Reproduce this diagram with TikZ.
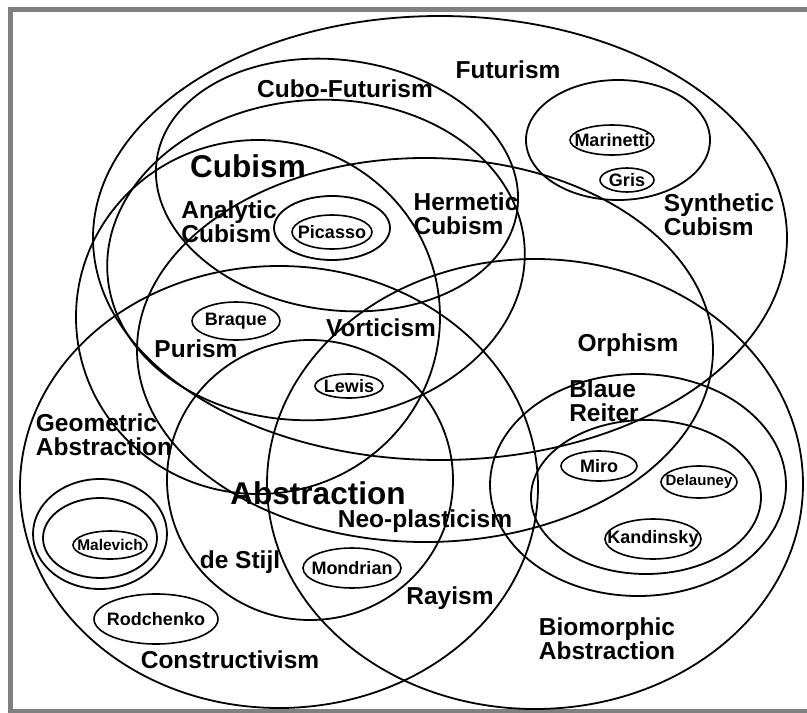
\documentclass[tikz,border=0pt]{standalone}
\usepackage{fontspec}
\setmainfont{Liberation Sans}
\usetikzlibrary{positioning}
\definecolor{framegray}{RGB}{128,128,128}

\begin{document}
\begin{tikzpicture}[
  x=1pt, y=-1pt,
  ring/.style={draw=black, line width=1.8pt},
  oval/.style={draw=black, line width=1.6pt},
  movement/.style={font=\fontsize{24.5}{24}\selectfont\bfseries, align=left, inner sep=0pt},
  bigmovement/.style={font=\fontsize{31.5}{32}\selectfont\bfseries, inner sep=0pt},
  artist/.style={font=\fontsize{18}{18}\selectfont\bfseries, inner sep=0pt}
]
\useasboundingbox (0,0) rectangle (807,713);
\fill[white] (0,0) rectangle (807,713);
% frame
\fill[framegray] (8,7) rectangle (807,12);
\fill[framegray] (8,7) rectangle (13,713);
\fill[framegray] (8,709) rectangle (807,713);

% movements
\draw[ring] (440,238) ellipse [x radius=347, y radius=222]; % futurism
\draw[ring, rotate around={-8:(337,185)}] (337,185) ellipse [x radius=182, y radius=125]; % cubo-futurism
\draw[ring, rotate around={4:(316,260)}] (316,260) ellipse [x radius=209, y radius=160]; % cubism
\draw[ring] (258,317) ellipse [x radius=182, y radius=177]; % vorticism
\draw[ring] (425,350) ellipse [x radius=288, y radius=192]; % orphism
\draw[ring] (279,487) ellipse [x radius=259, y radius=221]; % abstraction
\draw[ring] (535,484) ellipse [x radius=268, y radius=225]; % biomorphic
\draw[ring] (310,480) ellipse [x radius=143, y radius=140]; % de stijl
\draw[ring] (618,140) ellipse [x radius=92, y radius=60];   % synthetic
\draw[ring] (638,485) ellipse [x radius=148, y radius=111]; % blaue reiter
\draw[ring] (646,497) ellipse [x radius=115, y radius=77];
\draw[ring] (100,534) ellipse [x radius=67, y radius=55];   % constructivism
\draw[ring] (100,538) ellipse [x radius=57, y radius=40];
\draw[ring] (332,228) ellipse [x radius=58, y radius=32];

% labels
\node[movement] (futurism) at (508,70) {Futurism};
\node[movement] (cubofut) at (345,89) {Cubo-Futurism};
\node[bigmovement] (cubism) at (248,166) {Cubism};
\node[movement] (analytic) at (229,222) {Analytic\\Cubism};
\node[movement] (hermetic) at (466,214) {Hermetic\\Cubism};
\node[movement] (synthetic) at (719,215) {Synthetic\\Cubism};
\node[movement] (vorticism) at (381,328) {Vorticism};
\node[movement] (purism) at (196,349) {Purism};
\node[movement] (orphism) at (628,345) {Orphism};
\node[movement] (blaue) at (604,401) {Blaue\\Reiter};
\node[movement] (geometric) at (104,435) {Geometric\\Abstraction};
\node[bigmovement] (abstraction) at (318,493) {Abstraction};
\node[movement] (neoplast) at (425,521) {Neo-plasticism};
\node[movement] (destijl) at (240,562) {de Stijl};
\node[movement] (rayism) at (450,598) {Rayism};
\node[movement] (biomorphic) at (607,639) {Biomorphic\\Abstraction};
\node[movement] (constructivism) at (230,660) {Constructivism};

% artists
\node[artist] (marinetti) at (612,140) {Marinetti};
\node[artist] (gris) at (627,180) {Gris};
\node[artist] (picasso) at (332,232) {Picasso};
\node[artist] (braque) at (236,321) {Braque};
\node[artist] (lewis) at (349,386) {Lewis};
\node[artist] (miro) at (599,466) {Miro};
\node[artist, font=\fontsize{15}{15}\selectfont\bfseries] (delauney) at (699,482) {Delauney};
\node[artist] (kandinsky) at (653,539) {Kandinsky};
\node[artist, font=\fontsize{15.5}{15}\selectfont\bfseries] (malevich) at (110,545) {Malevich};
\node[artist] (mondrian) at (352,568) {Mondrian};
\node[artist] (rodchenko) at (156,619) {Rodchenko};

\draw[oval] (marinetti.center) ellipse [x radius=42, y radius=15];
\draw[oval] (gris.center) ellipse [x radius=27, y radius=12];
\draw[oval] (picasso.center) ellipse [x radius=40, y radius=17];
\draw[oval] (braque.center) ellipse [x radius=44, y radius=19];
\draw[oval] (lewis.center) ellipse [x radius=34, y radius=12];
\draw[oval] (miro.center) ellipse [x radius=38, y radius=15];
\draw[oval] (delauney.center) ellipse [x radius=38, y radius=16];
\draw[oval] (kandinsky.center) ellipse [x radius=48, y radius=20];
\draw[oval] (malevich.center) ellipse [x radius=37, y radius=14];
\draw[oval] (mondrian.center) ellipse [x radius=49, y radius=20];
\draw[oval] (rodchenko.center) ellipse [x radius=62, y radius=25];
\end{tikzpicture}
\end{document}
